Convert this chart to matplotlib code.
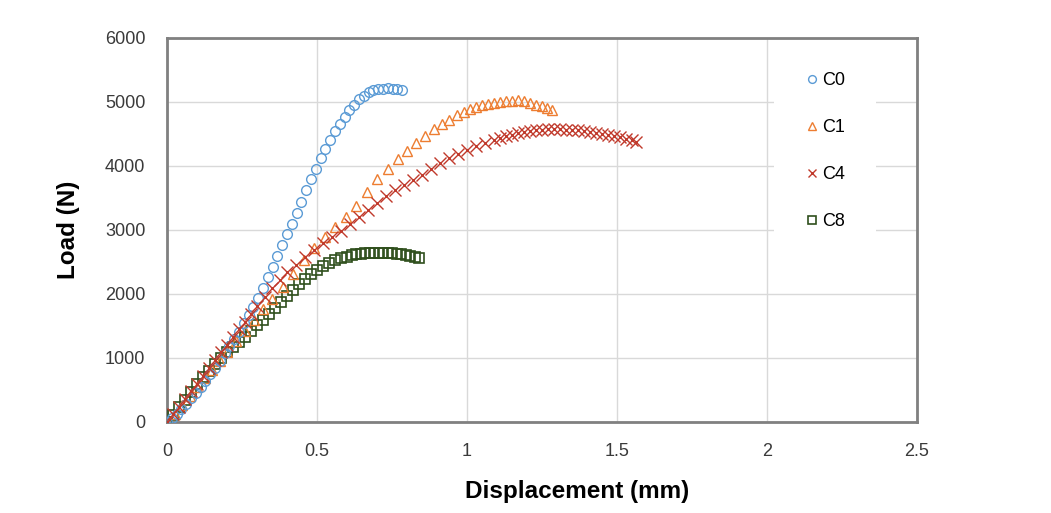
import matplotlib.pyplot as plt

plt.rcParams['font.family'] = ['Liberation Sans', 'DejaVu Sans']

# load-displacement data
c0_x = [0.000, 0.016, 0.032, 0.048, 0.064, 0.080, 0.096, 0.112, 0.128, 0.144,
        0.160, 0.176, 0.192, 0.208, 0.224, 0.240, 0.256, 0.272, 0.288, 0.304,
        0.320, 0.336, 0.352, 0.368, 0.384, 0.400, 0.416, 0.432, 0.448, 0.464,
        0.480, 0.496, 0.512, 0.528, 0.544, 0.560, 0.576, 0.592, 0.608, 0.624,
        0.640, 0.656, 0.672, 0.688, 0.704, 0.720, 0.736, 0.752, 0.768, 0.784]
c0_y = [0, 60, 130, 200, 285, 370, 460, 540, 640, 750,
        850, 960, 1080, 1190, 1300, 1410, 1540, 1670, 1800, 1940,
        2100, 2260, 2420, 2590, 2760, 2930, 3100, 3270, 3440, 3620,
        3790, 3960, 4120, 4270, 4410, 4540, 4660, 4770, 4870, 4960,
        5040, 5100, 5150, 5180, 5200, 5210, 5215, 5210, 5200, 5185]

c1_x = [0.000, 0.025, 0.050, 0.075, 0.100, 0.125, 0.150, 0.175, 0.200, 0.230,
        0.260, 0.290, 0.320, 0.350, 0.385, 0.420, 0.455, 0.490, 0.525, 0.560,
        0.595, 0.630, 0.665, 0.700, 0.735, 0.770, 0.800, 0.830, 0.860, 0.890,
        0.915, 0.940, 0.965, 0.990, 1.010, 1.030, 1.050, 1.070, 1.090, 1.110,
        1.130, 1.150, 1.170, 1.190, 1.210, 1.230, 1.250, 1.265, 1.283]
c1_y = [0, 120, 260, 400, 540, 680, 820, 960, 1100, 1260,
        1420, 1590, 1760, 1920, 2110, 2320, 2530, 2720, 2890, 3050,
        3200, 3380, 3600, 3790, 3960, 4110, 4240, 4360, 4470, 4570,
        4650, 4720, 4790, 4850, 4890, 4920, 4950, 4970, 4990, 5005,
        5015, 5020, 5025, 5010, 4990, 4960, 4930, 4900, 4870]

c4_x = [0.000, 0.020, 0.040, 0.060, 0.080, 0.100, 0.120, 0.140, 0.160, 0.180,
        0.200, 0.220, 0.240, 0.260, 0.280, 0.300, 0.325, 0.350, 0.375, 0.400,
        0.430, 0.460, 0.490, 0.520, 0.550, 0.580, 0.610, 0.640, 0.670, 0.700,
        0.730, 0.760, 0.790, 0.820, 0.850, 0.880, 0.910, 0.940, 0.970, 1.000,
        1.030, 1.060, 1.090, 1.110, 1.130, 1.150, 1.170, 1.190, 1.210, 1.230,
        1.250, 1.270, 1.290, 1.310, 1.330, 1.350, 1.370, 1.390, 1.410, 1.430,
        1.450, 1.470, 1.490, 1.510, 1.530, 1.550, 1.565]
c4_y = [0, 120, 240, 360, 480, 600, 720, 845, 965, 1090,
        1210, 1330, 1450, 1570, 1690, 1810, 1950, 2090, 2220, 2340,
        2460, 2580, 2690, 2790, 2890, 2990, 3090, 3200, 3310, 3420,
        3530, 3620, 3700, 3780, 3860, 3950, 4040, 4120, 4190, 4250,
        4310, 4360, 4410, 4440, 4470, 4490, 4510, 4530, 4545, 4555,
        4565, 4570, 4570, 4570, 4565, 4560, 4555, 4545, 4535, 4520,
        4505, 4490, 4470, 4450, 4425, 4400, 4370]

c8_x = [0.000, 0.020, 0.040, 0.060, 0.080, 0.100, 0.120, 0.140, 0.160, 0.180,
        0.200, 0.220, 0.240, 0.260, 0.280, 0.300, 0.320, 0.340, 0.360, 0.380,
        0.400, 0.420, 0.440, 0.460, 0.480, 0.500, 0.520, 0.540, 0.560, 0.580,
        0.600, 0.615, 0.630, 0.645, 0.660, 0.675, 0.690, 0.705, 0.720, 0.735,
        0.750, 0.765, 0.780, 0.795, 0.810, 0.825, 0.840]
c8_y = [0, 110, 230, 350, 470, 590, 700, 800, 900, 1000,
        1090, 1170, 1250, 1330, 1420, 1510, 1600, 1690, 1780, 1880,
        1970, 2060, 2150, 2230, 2310, 2380, 2440, 2490, 2530, 2560,
        2585, 2605, 2620, 2630, 2638, 2642, 2645, 2645, 2643, 2640,
        2636, 2630, 2622, 2610, 2595, 2580, 2565]

fig = plt.figure(figsize=(10.51, 5.13), dpi=100)
ax = fig.add_axes([0.1589, 0.1774, 0.7136, 0.7486])

ax.plot(c8_x, c8_y, 's', ms=7, mfc='none', mec='#2f4f1c', mew=1.2, label='C8', zorder=3)
ax.plot(c4_x, c4_y, 'x', ms=8, mec='#c0392b', mew=1.0, label='C4', zorder=4)
ax.plot(c1_x, c1_y, '^', ms=7.5, mfc='none', mec='#ed7d31', mew=1.0, label='C1', zorder=3)
ax.plot(c0_x, c0_y, 'o', ms=7, mfc='none', mec='#5b9bd5', mew=1.0, label='C0', zorder=3)

ax.set_xlim(0, 2.5)
ax.set_ylim(0, 6000)
ax.set_xticks([0, 0.5, 1, 1.5, 2, 2.5])
ax.set_xticklabels(['0', '0.5', '1', '1.5', '2', '2.5'])
ax.set_yticks(range(0, 7000, 1000))
ax.grid(True, color='#d9d9d9', lw=1)
ax.set_axisbelow(True)
ax.tick_params(length=0, labelsize=13, labelcolor='#3a3a3a')
ax.tick_params(axis='y', pad=15.5)
ax.tick_params(axis='x', pad=15)
for s in ax.spines.values():
    s.set_color('#808080')
    s.set_linewidth(2)

ax.set_xlabel('Displacement (mm)', fontsize=17.5, fontweight='bold')
ax.set_ylabel('Load (N)', fontsize=17.5, fontweight='bold')
ax.xaxis.set_label_coords(0.547, -0.15)
ax.yaxis.set_label_coords(-0.116, 0.5)

h, l = ax.get_legend_handles_labels()
leg = ax.legend(h[::-1], l[::-1], loc='upper left', bbox_to_anchor=(0.797, 1.015),
                frameon=True, fancybox=False, edgecolor='none', facecolor='white',
                framealpha=1, fontsize=13, labelspacing=1.67, handlelength=0.8,
                handletextpad=0.17, markerscale=0.8, borderpad=1.7)
leg.set_zorder(2.2)

plt.savefig('out.png', dpi=100)
